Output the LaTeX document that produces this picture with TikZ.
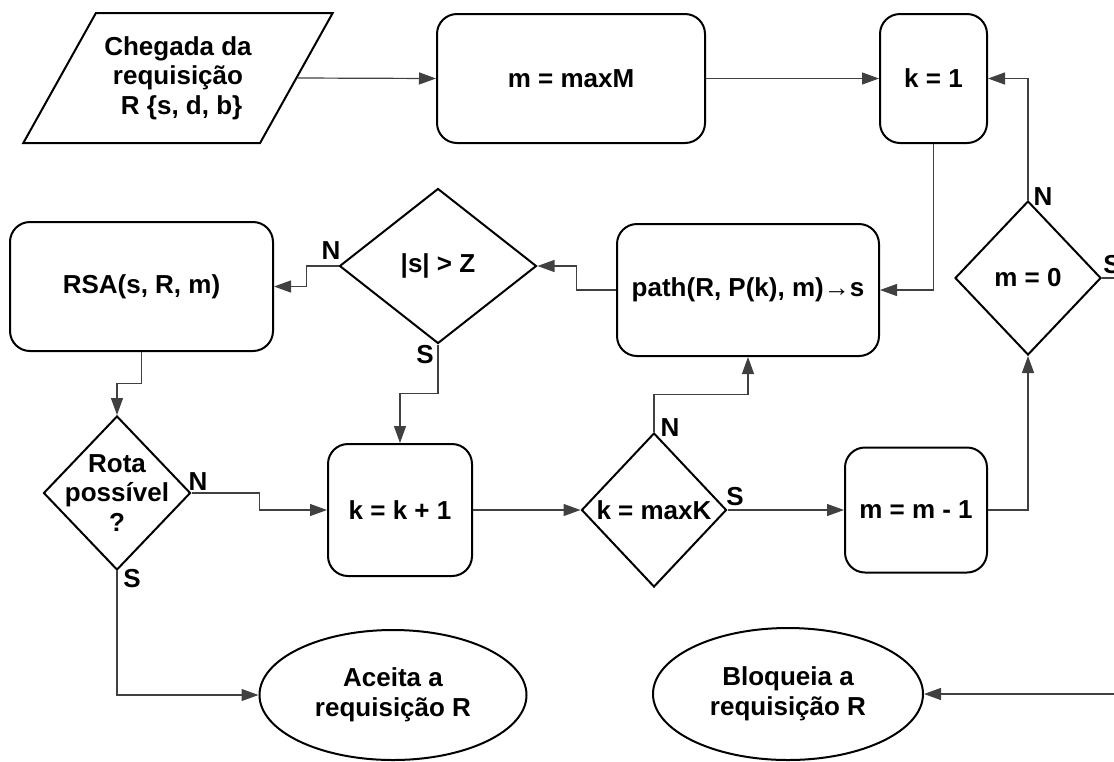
\documentclass[tikz,border=0pt]{standalone}
\usepackage{fontspec}
\setmainfont{Liberation Sans}
\usetikzlibrary{arrows.meta, shapes.geometric, calc}

\begin{document}
\begin{tikzpicture}[x=0.5pt, y=-0.5pt,
  every node/.style={font=\fontsize{13}{14.8}\selectfont\bfseries},
  box/.style={draw, line width=1pt, rounded corners=10pt, align=center, inner sep=0pt},
  decision/.style={draw, diamond, line width=1pt, align=center, inner sep=-5pt},
  terminal/.style={draw, ellipse, line width=1pt, align=center, inner sep=0pt},
  conn/.style={draw=black!75, line width=0.6pt, -{Triangle[length=8.5pt,width=6pt]}}]
  \useasboundingbox (0,0) rectangle (1114,761);
  \clip (0,0) rectangle (1114,761);
  \node[draw, trapezium, trapezium left angle=52, trapezium right angle=128, trapezium stretches=true,
    minimum width=155pt, minimum height=65pt, line width=1pt, align=center, inner sep=0pt] (req) at (178,78)
    {Chegada da\\requisição\\\hspace*{0.28em}R \{s, d, b\}};
  \node[box, minimum width=134pt, minimum height=64.5pt] (mmax) at (571,78.5) {m = maxM};
  \node[box, minimum width=53.5pt, minimum height=64.5pt] (kone) at (933.5,78.5) {k = 1};
  \node[box, minimum width=131pt, minimum height=66pt] (path) at (748,290) {path(R, P(k), m)→s};
  \node[decision, minimum width=98.5pt, minimum height=77.5pt] (sz) at (438,266) {|s| > Z};
  \node[box, minimum width=131.5pt, minimum height=64.5pt] (rsa) at (141.5,286.5) {RSA(s, R, m)};
  \node[decision, minimum width=73.5pt, minimum height=77pt] (rota) at (117,493) {Rota\\possível\\?};
  \node[box, minimum width=72pt, minimum height=66pt] (kk) at (400,510) {k = k + 1};
  \node[decision, minimum width=72.5pt, minimum height=77pt] (kmax) at (654,510) {k = maxK};
  \node[box, minimum width=71pt, minimum height=62.5pt] (mmm) at (916,510) {m = m - 1};
  \node[decision, minimum width=73pt, minimum height=77pt] (m0) at (1028,278) {m = 0};
  \node[terminal, minimum width=133.5pt, minimum height=65pt] (aceita) at (393,695) {Aceita a\\requisição R};
  \node[terminal, minimum width=135pt, minimum height=66pt] (bloq) at (788,694) {Bloqueia a\\requisição R};

  \node (szN) at (331,251) {N};
  \node (szS) at (425,355) {S};
  \node (rotaN) at (198,482) {N};
  \node (rotaS) at (132,579) {S};
  \node (kmaxN) at (670,428) {N};
  \node (kmaxS) at (735,497) {S};
  \node (m0N) at (1043,197) {N};
  \node[anchor=west, inner sep=0pt] (m0S) at (1103,265) {S};
  \coordinate (rim) at (1130,278);

  \draw[conn] (req.east) -- (mmax.west);
  \draw[conn] (mmax.east) -- (kone.west);
  \draw[conn] (kone.south) |- (path.east);
  \draw[conn] (path.west) -| ($(path.west)!.5!(sz.east)$) |- (sz.east);
  \draw[conn] (sz.west) -| ($(sz.west)!.5!(rsa.east)$) |- (rsa.east);
  \draw[conn] (sz.south) |- ($(sz.south)!.5!(kk.north)$) -| (kk.north);
  \draw[conn] (rsa.south) |- ($(rsa.south)!.5!(rota.north)$) -| (rota.north);
  \draw[conn] (rota.east) -| ($(rota.east)!.5!(kk.west)$) |- (kk.west);
  \draw[conn] (rota.south) |- (aceita.west);
  \draw[conn] (kk.east) -- (kmax.west);
  \draw[conn] (kmax.north) |- ($(kmax.north)!.5!(path.south)$) -| (path.south);
  \draw[conn] (kmax.east) -- (mmm.west);
  \draw[conn] (mmm.east) -| (m0.south);
  \draw[conn] (m0.north) |- (kone.east);
  \draw[conn] (m0.east) -- (rim) |- (bloq.east);
\end{tikzpicture}
\end{document}
